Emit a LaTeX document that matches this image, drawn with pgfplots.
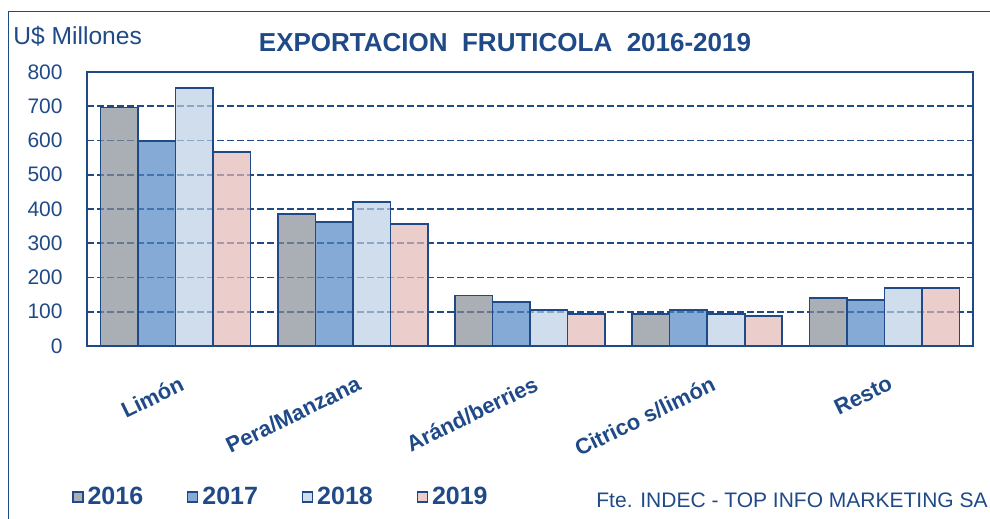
\documentclass[border=0pt]{standalone}
\usepackage{fontspec}
\setmainfont{Liberation Sans}
\usepackage{pgfplots}
\pgfplotsset{compat=1.18}
\definecolor{navy}{RGB}{31,74,135}
\definecolor{c16}{RGB}{134,141,149}
\definecolor{c17}{RGB}{81,134,196}
\definecolor{c18}{RGB}{188,206,228}
\definecolor{c19}{RGB}{226,184,182}
\begin{document}
\begin{tikzpicture}
\useasboundingbox (0,0) rectangle (495pt,259.5pt);
\draw[navy, line width=0.7pt] (4.15pt,-2pt) -- (4.15pt,253.6pt) -- (500pt,253.6pt);
\node[anchor=base, inner sep=0pt, text=navy, font=\fontsize{13}{15}\selectfont\bfseries] at (252.5pt,233.6pt) {EXPORTACION\ \ FRUTICOLA\ \ 2016-2019};
\node[anchor=base west, inner sep=0pt, text=navy, font=\fontsize{12.3}{14}\selectfont] at (6.5pt,237.4pt) {U\$ Millones};
\node[anchor=base west, inner sep=0pt, text=navy, font=\fontsize{10.5}{12}\selectfont] at (298pt,5.5pt) {Fte. INDEC - TOP INFO MARKETING SA};
\begin{axis}[
  at={(43.5pt,86.5pt)}, anchor=south west,
  scale only axis, width=443pt, height=137pt,
  ybar=0pt, bar width=18.75pt,
  xmin=-0.5, xmax=4.5, ymin=0, ymax=800,
  xtick={0,1,2,3,4},
  xticklabels={Limón, Pera/Manzana, Aránd/berries, Citrico s/limón, Resto},
  ytick={0,100,...,800},
  major tick length=0pt,
  /pgf/number format/assume math mode=true,
  axis line style={draw=navy, line width=0.8pt},
  ymajorgrids,
  grid style={navy, line width=0.9pt, dash pattern=on 3.3pt off 1.7pt},
  yticklabel style={anchor=east, inner sep=0pt, xshift=-12pt, text=navy, font=\fontsize{10.5}{12}\selectfont},
  xticklabel style={rotate=26, anchor=north east, inner sep=0pt, xshift=-5pt, yshift=-13.5pt, text=navy, font=\fontsize{11}{13}\selectfont\bfseries},
  every axis plot/.append style={draw=navy, line width=0.8pt, fill opacity=0.7, draw opacity=1},
  legend image code/.code={\draw[#1, line width=0.6pt] (0pt,-2.5pt) rectangle (5pt,2.5pt);},
  legend style={at={(0,0)}, anchor=west, xshift=-7.5pt, yshift=-75.5pt, draw=none, fill=none, inner sep=0pt,
    text=navy, font=\fontsize{12.5}{14}\selectfont\bfseries, text opacity=1,
    /tikz/every even column/.append style={column sep=20pt}},
  legend columns=4,
]
\addplot[fill=c16] coordinates {(0,696) (1,385) (2,147) (3,94) (4,140)};
\addplot[fill=c17] coordinates {(0,598) (1,362) (2,128) (3,105) (4,134)};
\addplot[fill=c18] coordinates {(0,753) (1,420) (2,105) (3,93) (4,169)};
\addplot[fill=c19] coordinates {(0,567) (1,356) (2,93) (3,88) (4,169)};
\legend{2016,2017,2018,2019}
\end{axis}
\end{tikzpicture}
\end{document}
